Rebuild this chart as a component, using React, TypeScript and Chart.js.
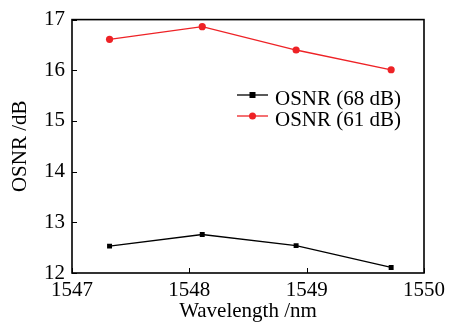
import React, { useEffect, useRef } from "react";
import { Chart, registerables } from "chart.js";

Chart.register(...registerables);

const wavelengths = [1547.32, 1548.11, 1548.91, 1549.72];
const osnr68 = [12.53, 12.76, 12.54, 12.11];
const osnr61 = [16.61, 16.86, 16.4, 16.01];
const seriesLabels = ["OSNR (68 dB)", "OSNR (61 dB)"];
const xTitle = "Wavelength /nm";
const yTitle = "OSNR /dB";

const FONT = "'Liberation Serif', 'Times New Roman', serif";
const FS = 21;
const RED = "rgb(238,34,38)";

const framePlugin = {
  id: "frameAndTicks",
  afterDraw(chart: any) {
    const { ctx, chartArea } = chart;
    const xs = chart.scales.x;
    const ys = chart.scales.y;
    ctx.save();
    ctx.strokeStyle = "#000";
    ctx.lineWidth = 1;
    // inward ticks
    xs.ticks.forEach((t: any) => {
      const px = Math.round(xs.getPixelForValue(t.value)) + 0.5;
      ctx.beginPath();
      ctx.moveTo(px, chartArea.bottom);
      ctx.lineTo(px, chartArea.bottom - 5);
      ctx.stroke();
    });
    ys.ticks.forEach((t: any) => {
      const py = Math.round(ys.getPixelForValue(t.value)) + 0.5;
      ctx.beginPath();
      ctx.moveTo(chartArea.left, py);
      ctx.lineTo(chartArea.left + 5, py);
      ctx.stroke();
    });
    // frame
    ctx.lineWidth = 1.6;
    ctx.strokeRect(
      chartArea.left,
      chartArea.top,
      chartArea.right - chartArea.left,
      chartArea.bottom - chartArea.top
    );
    // legend
    const lx0 = 237;
    const lx1 = 268;
    const tx = 275;
    const rows = [95, 116];
    chart.data.datasets.forEach((ds: any, i: number) => {
      const y = rows[i];
      ctx.strokeStyle = ds.borderColor;
      ctx.fillStyle = ds.backgroundColor;
      ctx.lineWidth = 1.3;
      ctx.beginPath();
      ctx.moveTo(lx0, y);
      ctx.lineTo(lx1, y);
      ctx.stroke();
      const mx = (lx0 + lx1) / 2;
      if (ds.pointStyle === "rect") {
        ctx.fillRect(mx - 3, y - 3, 6, 6);
      } else {
        ctx.beginPath();
        ctx.arc(mx, y, 3.5, 0, Math.PI * 2);
        ctx.fill();
      }
      ctx.fillStyle = "#000";
      ctx.font = `${FS}px ${FONT}`;
      ctx.textBaseline = "alphabetic";
      ctx.textAlign = "left";
      ctx.fillText(ds.label, tx, y + 10);
    });
    ctx.restore();
  },
};

export default function App() {
  const ref = useRef<HTMLCanvasElement>(null);
  useEffect(() => {
    if (!ref.current) return;
    const chart = new Chart(ref.current, {
      type: "line",
      data: {
        datasets: [
          {
            label: seriesLabels[0],
            data: wavelengths.map((x, i) => ({ x, y: osnr68[i] })),
            borderColor: "#000",
            backgroundColor: "#000",
            borderWidth: 1.3,
            pointStyle: "rect",
            pointRadius: 3.5,
            pointBorderWidth: 0,
            tension: 0,
          },
          {
            label: seriesLabels[1],
            data: wavelengths.map((x, i) => ({ x, y: osnr61[i] })),
            borderColor: RED,
            backgroundColor: RED,
            borderWidth: 1.3,
            pointStyle: "circle",
            pointRadius: 3.6,
            pointBorderWidth: 0,
            tension: 0,
          },
        ],
      },
      options: {
        responsive: false,
        animation: false,
        devicePixelRatio: 1,
        layout: { padding: { top: 14, right: 36, left: 0, bottom: 0 } },
        plugins: { legend: { display: false }, tooltip: { enabled: false } },
        scales: {
          x: {
            type: "linear",
            min: 1547,
            max: 1550,
            ticks: {
              stepSize: 1,
              color: "#000",
              font: { family: FONT, size: FS },
              padding: 5,
              maxRotation: 0,
              callback: (v: any) => String(v),
            },
            grid: { display: false, drawTicks: false },
            border: { display: false },
            title: {
              display: true,
              text: xTitle,
              color: "#000",
              font: { family: FONT, size: FS },
              padding: { top: 0, bottom: 1 },
            },
            afterFit(scale: any) {
              scale.height = 52;
            },
          },
          y: {
            min: 12,
            max: 17,
            ticks: {
              stepSize: 1,
              color: "#000",
              font: { family: FONT, size: FS },
              padding: 7,
              callback: (v: any) => String(v),
            },
            grid: { display: false, drawTicks: false },
            border: { display: false },
            title: {
              display: true,
              text: yTitle,
              color: "#000",
              font: { family: FONT, size: FS },
              padding: { top: 8, bottom: 0 },
            },
            afterFit(scale: any) {
              scale.width = 72;
            },
          },
        },
      },
      plugins: [framePlugin],
    } as any);
    return () => chart.destroy();
  }, []);
  return (
    <div style={{ position: "fixed", left: 0, top: 0, width: 460, height: 325, background: "#fff" }}>
      <canvas ref={ref} width={460} height={325} />
    </div>
  );
}
